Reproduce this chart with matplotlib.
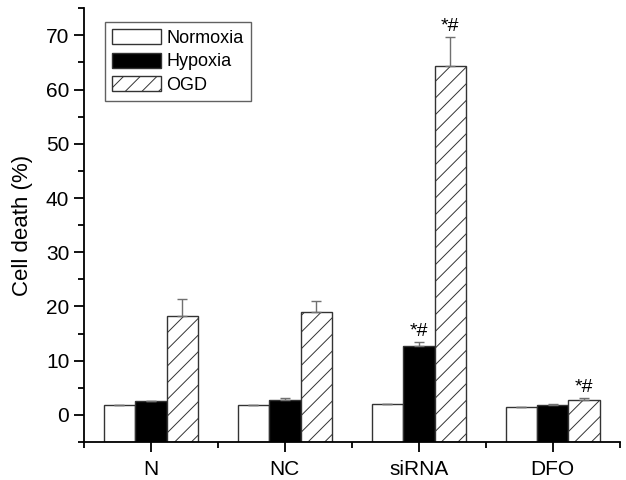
import numpy as np
import matplotlib
matplotlib.use("Agg")
import matplotlib.pyplot as plt
from matplotlib.ticker import MultipleLocator

plt.rcParams['font.family'] = ['Liberation Sans', 'DejaVu Sans']
plt.rcParams['hatch.color'] = '#9a9a9a'
plt.rcParams['hatch.linewidth'] = 0.7

# Data
groups = ["N", "NC", "siRNA", "DFO"]
series = ["Normoxia", "Hypoxia", "OGD"]
normoxia = [1.85, 1.85, 2.1, 1.5]
normoxia_err = [0.0, 0.0, 0.0, 0.0]
hypoxia = [2.65, 2.8, 12.8, 1.9]
hypoxia_err = [0.0, 0.3, 0.7, 0.2]
ogd = [18.2, 18.9, 64.4, 2.8]
ogd_err = [3.2, 2.1, 5.2, 0.3]
# significance marks: (group index, series index)
marks = [(2, 1), (2, 2), (3, 2)]

Y_MIN = -5

fig = plt.figure(figsize=(6.26, 4.8), dpi=100)
ax = fig.add_axes([0.134, 0.079, 0.856, 0.904])

x = np.arange(1, len(groups) + 1)
w = 0.235
edge = '#333333'
err_kw = dict(ecolor='#707070', elinewidth=1.0, capsize=3.5, capthick=1.0)

vals = [normoxia, hypoxia, ogd]
errs = [normoxia_err, hypoxia_err, ogd_err]
styles = [dict(color='white', hatch=None),
          dict(color='black', hatch=None),
          dict(color='white', hatch='//')]

for i, (v, e, st) in enumerate(zip(vals, errs, styles)):
    v = np.array(v)
    e_up = np.array(e)
    yerr = [np.zeros_like(e_up), e_up]
    # bars in the original are drawn up from the bottom of the axis
    ax.bar(x + (i - 1) * w, v - Y_MIN, w, bottom=Y_MIN, color=st['color'],
           hatch=st['hatch'], edgecolor=edge, linewidth=1.0, label=series[i],
           yerr=yerr, error_kw=err_kw)

for g, s in marks:
    top = vals[s][g] + errs[s][g]
    ax.text(x[g] + (s - 1) * w, top + 0.4, "*#", ha='center', va='bottom',
            fontsize=14)

ax.set_xlim(0.5, 4.5)
ax.set_ylim(Y_MIN, 75)
ax.set_xticks(x)
ax.set_xticklabels(groups)
ax.set_xticks(np.arange(0.5, 4.6, 1.0), minor=True)
ax.set_yticks(np.arange(0, 71, 10))
ax.yaxis.set_minor_locator(MultipleLocator(5))

for side in ['top', 'right']:
    ax.spines[side].set_visible(False)
for side in ['left', 'bottom']:
    ax.spines[side].set_linewidth(1.3)

ax.tick_params(axis='both', which='major', direction='out', length=7,
               width=1.3, labelsize=15)
ax.tick_params(axis='both', which='minor', direction='out', length=4,
               width=1.3)
ax.tick_params(axis='x', which='major', pad=6)

ax.set_ylabel("Cell death (%)", fontsize=16, labelpad=9)

leg = ax.legend(loc='upper left', bbox_to_anchor=(0.039, 0.968),
                borderaxespad=0, fontsize=13, frameon=True, fancybox=False,
                edgecolor='#3a3a3a', handlelength=2.7, handleheight=0.9,
                labelspacing=0.32, handletextpad=0.3, borderpad=0.4)
leg.get_frame().set_linewidth(1.0)

fig.savefig("out.png", dpi=100)
